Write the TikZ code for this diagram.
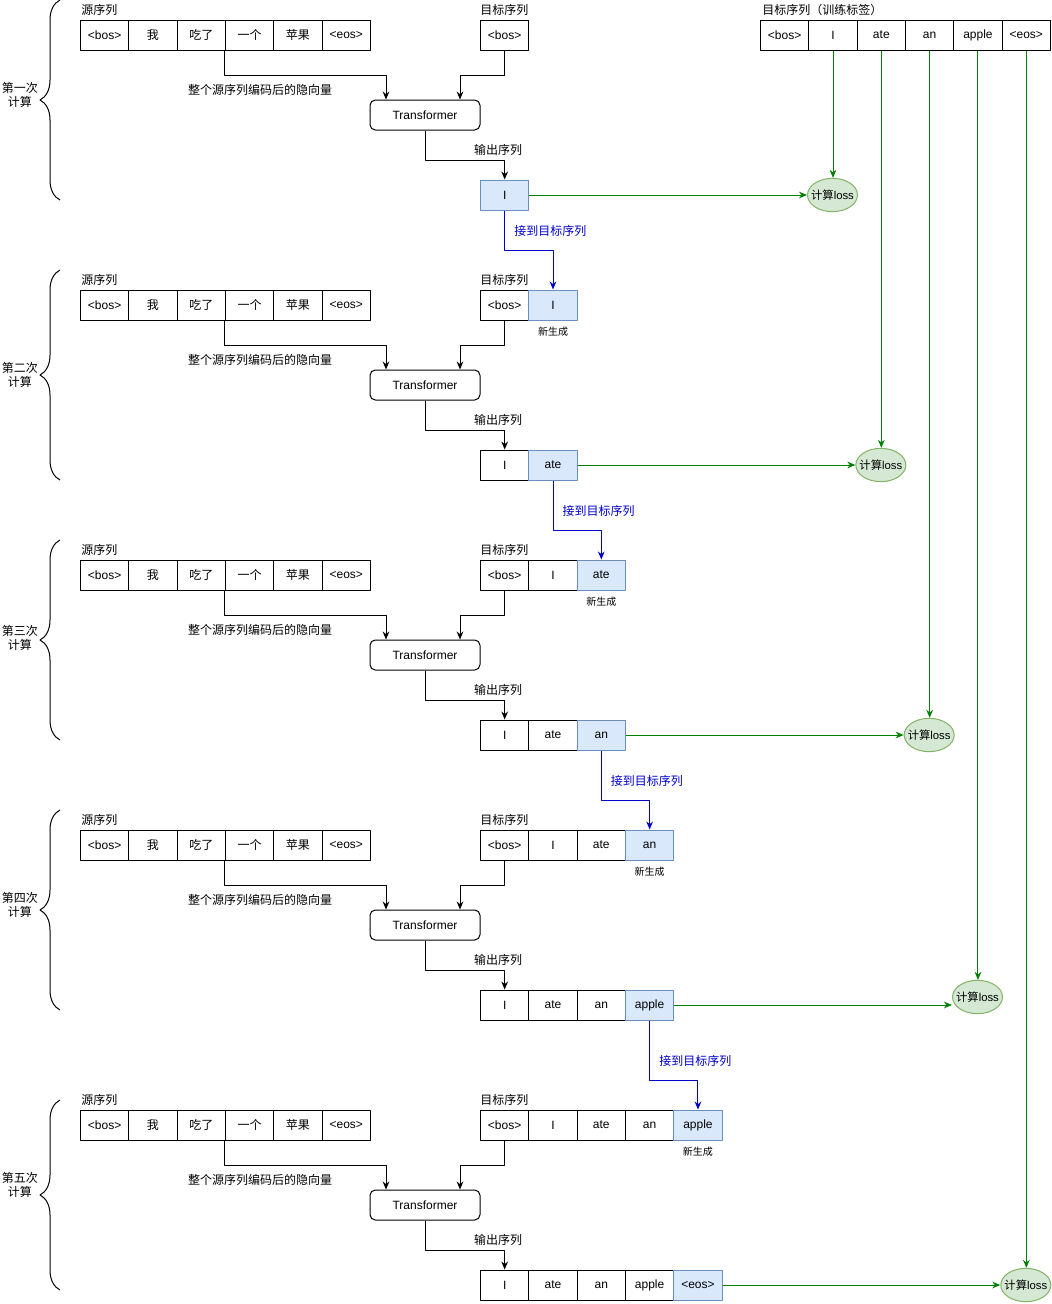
\documentclass[tikz,border=0pt]{standalone}
\usepackage{fontspec}
\setmainfont{Liberation Sans}
\newfontfamily\cjk{Noto Sans CJK SC}
\usetikzlibrary{arrows.meta,decorations.pathreplacing,shapes.geometric}
\definecolor{blue_new}{HTML}{DAE8FC}
\definecolor{blue_edge}{HTML}{6C8EBF}
\definecolor{blue_line}{HTML}{0000CC}
\definecolor{green_fill}{HTML}{D5E8D4}
\definecolor{green_edge}{HTML}{82B366}
\definecolor{green_line}{HTML}{008000}

\begin{document}
\begin{tikzpicture}[x=0.75pt,y=-0.75pt,line join=round,
  cellbox/.style={draw,line width=0.75pt,minimum width=36.25pt,minimum height=22.5pt,inner sep=0pt,anchor=west,font=\fontsize{9}{11}\selectfont},
  newcell/.style={cellbox,fill=blue_new,draw=blue_edge},
  tfbox/.style={draw,line width=0.75pt,rounded corners=4pt,minimum width=82.5pt,minimum height=22.5pt,font=\fontsize{9}{11}\selectfont},
  lossnode/.style={ellipse,draw=green_edge,fill=green_fill,line width=0.75pt,minimum width=37.5pt,minimum height=25pt,inner sep=-4pt,font=\fontsize{8.5}{10}\selectfont},
  lbl/.style={inner sep=0pt,font=\cjk\fontsize{9}{11}\selectfont},
  smalllbl/.style={inner sep=0pt,font=\cjk\fontsize{7.5}{9}\selectfont},
  flow/.style={line width=0.75pt,-{Stealth[length=6pt,width=5pt]}},
  lossflow/.style={flow,draw=green_line},
  joinflow/.style={flow,draw=blue_line},
]
\useasboundingbox (0,0) rectangle (1051,1304);

% Target sequence used as training labels
\node[lbl,anchor=west] (gl) at (762,10) {目标序列（训练标签）};
\foreach \j/\w in {0/<bos>,1/I,2/ate,3/an,4/apple,5/<eos>}
  \node[cellbox] (g-\j) at ({760+48.33*\j},35) {\w};

%-----------------------------------------------
% One block for each decoding step
\foreach \k/\o/\ly in {1/0/195,2/270/465,3/540/735,4/810/997,5/1090/1285}{
  \pgfmathtruncatemacro{\l}{\k-1}
  % source sequence
  \node[lbl,anchor=west] (sl\k) at (81,\o+10) {源序列};
  \foreach \j/\w in {0/<bos>,1/{\cjk 我},2/{\cjk 吃了},3/{\cjk 一个},4/{\cjk 苹果},5/<eos>}
    \node[cellbox] (s\k-\j) at ({80+48.33*\j},\o+35) {\w};
  % target sequence so far
  \node[lbl,anchor=west] (tl\k) at (480,\o+10) {目标序列};
  \foreach \j/\w in {0/<bos>,1/I,2/ate,3/an,4/apple}{
    \ifnum\j<\k
      \def\cs{cellbox}
      \ifnum\k>1 \ifnum\j=\l \def\cs{newcell}\fi\fi
      \node[\cs] (t\k-\j) at ({480+48.33*\j},\o+35) {\w};
    \fi
  }
  \ifnum\k>1
    \node[smalllbl] (ng\k) at ([yshift=-8.25pt]t\k-\l.south) {新生成};
  \fi
  % transformer
  \node[tfbox] (tf\k) at (425,\o+115) {Transformer};
  \draw[flow] (s\k-3.south west) -- ++(0,25) -| ([xshift=-29.25pt]tf\k.north);
  \draw[flow] (t\k-0.south) -- ++(0,25) -| ([xshift=26.25pt]tf\k.north);
  \node[lbl] (hv\k) at (260,\o+90) {整个源序列编码后的隐向量};
  % output sequence
  \foreach \j/\w in {0/I,1/ate,2/an,3/apple,4/<eos>}{
    \ifnum\j<\k
      \ifnum\j=\l \def\cs{newcell}\else\def\cs{cellbox}\fi
      \node[\cs] (o\k-\j) at ({480+48.33*\j},\o+195) {\w};
    \fi
  }
  \draw[flow] (tf\k.south) -- ++(0,30) -| (o\k-0.north);
  \node[lbl] (ol\k) at (498,\o+150) {输出序列};
  % loss
  \node[lossnode] (loss\k) at ({784.17+48.33*\k},\ly) {{\cjk 计算}loss};
  \draw[lossflow] (o\k-\l.east) -- (o\k-\l.east -| loss\k.west);
  \draw[lossflow] (g-\k.south) -- (g-\k.south |- loss\k.north);
}

%-----------------------------------------------
% New token appended to the target sequence
\foreach \k/\d in {1/40,2/50,3/50,4/60}{
  \pgfmathtruncatemacro{\l}{\k-1}
  \pgfmathtruncatemacro{\n}{\k+1}
  \draw[joinflow] (o\k-\l.south) -- ++(0,\d) -| (t\n-\k.north)
    node[pos=0.5,yshift=15pt,xshift=-2pt,lbl,text=blue_line] (jl\k) {接到目标序列};
}

% Braces for the steps
\foreach \k/\a/\b/\m/\nm in {1/0/200/95/第一次,2/270/480/375/第二次,3/540/740/638/第三次,4/810/1010/905/第四次,5/1100/1290/1185/第五次}{
  \draw[line width=0.75pt,decorate,decoration={brace,amplitude=15pt}] (60,\b) -- (60,\a);
  \node[lbl,align=center] (br\k) at (20,\m) {\nm\\计算};
}

\end{tikzpicture}
\end{document}
